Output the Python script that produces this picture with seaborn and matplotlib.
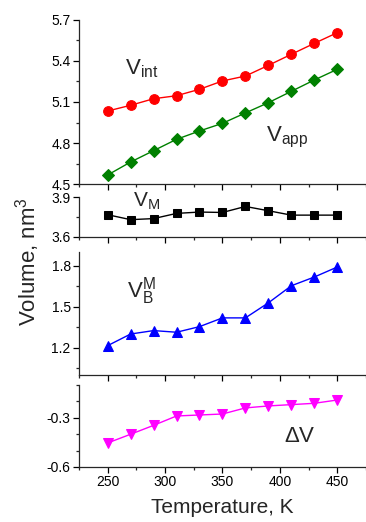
import numpy as np
import pandas as pd
import matplotlib
matplotlib.use("Agg")
import matplotlib.pyplot as plt
from matplotlib.ticker import MultipleLocator
import seaborn as sns

temperature = [250, 270, 290, 310, 330, 350, 370, 390, 410, 430, 450]
v_int = [5.034, 5.076, 5.124, 5.146, 5.193, 5.254, 5.290, 5.368, 5.449, 5.529, 5.607]
v_app = [4.566, 4.661, 4.744, 4.827, 4.888, 4.944, 5.020, 5.095, 5.178, 5.261, 5.339]
v_m = [3.767, 3.730, 3.738, 3.777, 3.787, 3.784, 3.829, 3.797, 3.764, 3.764, 3.764]
v_bm = [1.215, 1.300, 1.325, 1.313, 1.354, 1.418, 1.418, 1.528, 1.653, 1.717, 1.790]
delta_v = [-0.454, -0.401, -0.347, -0.290, -0.284, -0.278, -0.241, -0.229, -0.221, -0.213, -0.193]

sns.set_style("ticks")
plt.rcParams['font.family'] = ['Liberation Sans', 'DejaVu Sans']
plt.rcParams['mathtext.fontset'] = 'custom'
plt.rcParams['mathtext.rm'] = 'Liberation Sans'
plt.rcParams['mathtext.it'] = 'Liberation Sans:italic'
plt.rcParams['axes.linewidth'] = 0.9
plt.rcParams['xtick.direction'] = 'out'
plt.rcParams['ytick.direction'] = 'out'

fig = plt.figure(figsize=(3.66, 5.22), dpi=100)
left, width = 0.2158, 0.784
ax1 = fig.add_axes([left, 0.6475, width, 0.3142])
ax2 = fig.add_axes([left, 0.5460, width, 0.0766])
ax3 = fig.add_axes([left, 0.2816, width, 0.2356])
ax4 = fig.add_axes([left, 0.1054, width, 0.1576])

df = pd.DataFrame({"T": temperature, "Vint": v_int, "Vapp": v_app,
                   "VM": v_m, "VBM": v_bm, "dV": delta_v})

kw = dict(linewidth=1.0, markersize=7, legend=False)
sns.lineplot(data=df, x="T", y="Vint", ax=ax1, color="#ff0000", marker="o", markeredgecolor="#ff0000", **kw)
sns.lineplot(data=df, x="T", y="Vapp", ax=ax1, color="#008000", marker="D", markeredgecolor="#008000",
             linewidth=1.0, markersize=6, legend=False)
sns.lineplot(data=df, x="T", y="VM", ax=ax2, color="black", marker="s", markeredgecolor="black",
             linewidth=1.0, markersize=6, legend=False)
sns.lineplot(data=df, x="T", y="VBM", ax=ax3, color="#0000ff", marker="^", markeredgecolor="#0000ff", **kw)
sns.lineplot(data=df, x="T", y="dV", ax=ax4, color="#ff00ff", marker="v", markeredgecolor="#ff00ff", **kw)

ylims = [(4.5, 5.7), (3.6, 3.9), (1.0, 1.9), (-0.6, -0.1)]
minors = [0.15, 0.15, 0.15, 0.1]
for ax, yl, mn in zip([ax1, ax2, ax3, ax4], ylims, minors):
    ax.set_xlim(225, 475)
    ax.set_ylim(*yl)
    ax.xaxis.set_major_locator(MultipleLocator(50))
    ax.xaxis.set_minor_locator(MultipleLocator(25))
    ax.yaxis.set_major_locator(MultipleLocator(0.3))
    ax.yaxis.set_minor_locator(MultipleLocator(mn))
    ax.tick_params(which='major', length=4, width=0.9, labelsize=10, colors='black', pad=2)
    ax.tick_params(which='minor', length=2.5, width=0.9)
    ax.set_xlabel("")
    ax.set_ylabel("")
    ax.yaxis.set_major_formatter(plt.FuncFormatter(lambda v, p: f"{v:.1f}"))
    sns.despine(ax=ax)
    if ax is not ax4:
        ax.tick_params(axis='x', labelbottom=False)

ax4.set_xlabel("Temperature, K", fontsize=15, labelpad=6)
fig.text(0.074, 1 - 262 / 522, "Volume, nm$^3$", rotation=90, fontsize=16,
         ha='center', va='center')

ax1.text(265, 5.30, r"$\mathrm{V_{int}}$", fontsize=16)
ax1.text(388, 4.81, r"$\mathrm{V_{app}}$", fontsize=16)
ax2.text(272, 3.83, r"$\mathrm{V_{M}}$", fontsize=15)
ax3.text(267, 1.565, r"$\mathrm{V_{B}^{M}}$", fontsize=16)
ax4.text(404, -0.45, r"$\Delta$V", fontsize=16)

fig.savefig("out.png", dpi=100)
